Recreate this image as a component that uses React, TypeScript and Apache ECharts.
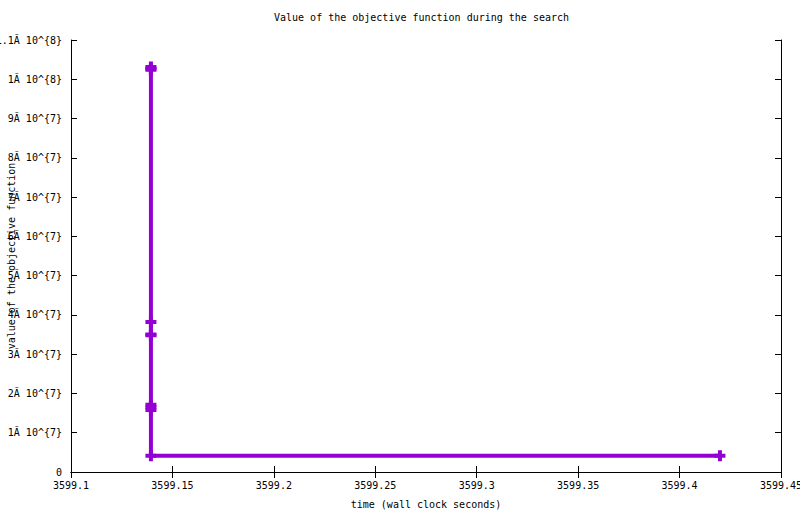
import React, { useEffect, useRef } from "react";
import * as echarts from "echarts";

// ---- data ----
const times: number[] = [
  3599.1394, 3599.1394, 3599.1394, 3599.1394, 3599.1394, 3599.1394,
  3599.1394, 3599.1394, 3599.1394, 3599.1394, 3599.4199,
];
const objectiveValues: number[] = [
  1.031e8, 1.027e8, 1.024e8, 3.82e7, 3.5e7, 3.48e7, 1.71e7, 1.65e7, 1.58e7,
  4.15e6, 4.15e6,
];
const yTickLabels: string[] = [
  "0",
  "1Ă 10^{7}",
  "2Ă 10^{7}",
  "3Ă 10^{7}",
  "4Ă 10^{7}",
  "5Ă 10^{7}",
  "6Ă 10^{7}",
  "7Ă 10^{7}",
  "8Ă 10^{7}",
  "9Ă 10^{7}",
  "1Ă 10^{8}",
  "1.1Ă 10^{8}",
];
const xMin = 3599.1;
const xMax = 3599.45;
const xStep = 0.05;
const yMin = 0;
const yMax = 1.1e8;
const yStep = 1e7;

const titleText = "Value of the objective function during the search";
const xName = "time (wall clock seconds)";
const yName = "value of the objective function";

const FONT = "DejaVu Sans Mono";
const PURPLE = "#9400D3";
const PLUS = "path://M3.5,0H7.5V3.5H11V7.5H7.5V11H3.5V7.5H0V3.5H3.5Z";

export default function App() {
  const ref = useRef<HTMLDivElement>(null);

  useEffect(() => {
    document.body.style.margin = "0";
    if (!ref.current) return;
    const chart = echarts.init(ref.current, null, { renderer: "svg" });

    const lineStyle = { color: "#000", width: 1 };
    const tick = { show: true, inside: true, length: 6, lineStyle };
    const labelStyle = { color: "#000", fontFamily: FONT, fontSize: 10 };

    chart.setOption({
      animation: false,
      backgroundColor: "#fff",
      title: {
        text: titleText,
        left: 274,
        top: 12,
        padding: 0,
        textStyle: { ...labelStyle, fontWeight: "normal" },
      },
      grid: {
        left: 71,
        right: 19,
        top: 40,
        bottom: 42,
        containLabel: false,
        outerBoundsMode: "none",
      },
      xAxis: [
        {
          type: "value",
          position: "bottom",
          min: xMin,
          max: xMax,
          interval: xStep,
          axisLine: { show: true, lineStyle },
          axisTick: tick,
          splitLine: { show: false },
          axisLabel: {
            ...labelStyle,
            margin: 8,
            showMinLabel: true,
            showMaxLabel: true,
            formatter: (v: number) => String(parseFloat(v.toFixed(2))),
          },
          name: xName,
          nameLocation: "middle",
          nameGap: 27,
          nameMoveOverlap: false,
          nameTextStyle: labelStyle,
        },
        {
          type: "value",
          position: "top",
          min: xMin,
          max: xMax,
          interval: xStep,
          axisLine: { show: true, lineStyle },
          axisTick: tick,
          splitLine: { show: false },
          axisLabel: { show: false },
        },
      ],
      yAxis: [
        {
          type: "value",
          position: "left",
          min: yMin,
          max: yMax,
          interval: yStep,
          axisLine: { show: true, lineStyle },
          axisTick: tick,
          splitLine: { show: false },
          axisLabel: {
            ...labelStyle,
            margin: 9,
            showMinLabel: true,
            showMaxLabel: true,
            formatter: (v: number) => yTickLabels[Math.round(v / yStep)] ?? "",
          },
          name: yName,
          nameLocation: "middle",
          nameGap: 55,
          nameMoveOverlap: false,
          nameTextStyle: labelStyle,
        },
        {
          type: "value",
          position: "right",
          min: yMin,
          max: yMax,
          interval: yStep,
          axisLine: { show: true, lineStyle },
          axisTick: tick,
          splitLine: { show: false },
          axisLabel: { show: false },
        },
      ],
      series: [
        {
          type: "line",
          xAxisIndex: 0,
          yAxisIndex: 0,
          data: times.map((t, i) => [t, objectiveValues[i]]),
          symbol: PLUS,
          symbolSize: 11,
          showSymbol: true,
          lineStyle: { color: PURPLE, width: 4 },
          itemStyle: { color: PURPLE, borderWidth: 0 },
          z: 3,
        },
      ],
    });

    return () => chart.dispose();
  }, []);

  return <div ref={ref} style={{ width: 800, height: 514 }} />;
}
